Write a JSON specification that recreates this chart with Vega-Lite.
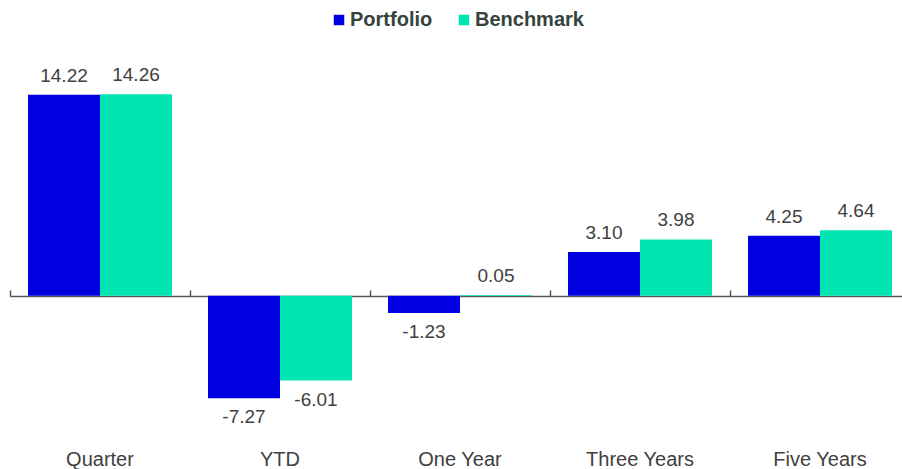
{
  "$schema": "https://vega.github.io/schema/vega-lite/v6.json",
  "width": 900,
  "height": 404,
  "autosize": {"type": "none"},
  "padding": {"left": 10, "top": 40, "right": 0, "bottom": 25},
  "background": "white",
  "config": {
    "view": {"stroke": null},
    "font": "Liberation Sans",
    "locale": {"number": {"decimal": ".", "thousands": ",", "grouping": [3], "currency": ["$", ""], "minus": "-"}}
  },
  "data": {
    "values": [
      {"period": "Quarter", "series": "Portfolio", "value": 14.22},
      {"period": "Quarter", "series": "Benchmark", "value": 14.26},
      {"period": "YTD", "series": "Portfolio", "value": -7.27},
      {"period": "YTD", "series": "Benchmark", "value": -6.01},
      {"period": "One Year", "series": "Portfolio", "value": -1.23},
      {"period": "One Year", "series": "Benchmark", "value": 0.05},
      {"period": "Three Years", "series": "Portfolio", "value": 3.10},
      {"period": "Three Years", "series": "Benchmark", "value": 3.98},
      {"period": "Five Years", "series": "Portfolio", "value": 4.25},
      {"period": "Five Years", "series": "Benchmark", "value": 4.64}
    ]
  },
  "encoding": {
    "xOffset": {"field": "series", "type": "nominal", "sort": ["Portfolio", "Benchmark"], "scale": {"paddingInner": 0, "paddingOuter": 0.25}},
    "y": {"field": "value", "type": "quantitative", "scale": {"domain": [-10.5, 18.1], "nice": false, "zero": false}, "axis": null}
  },
  "layer": [
    {
      "mark": {"type": "bar"},
      "encoding": {
        "x": {"field": "period", "type": "nominal", "sort": ["Quarter", "YTD", "One Year", "Three Years", "Five Years"],
          "scale": {"paddingInner": 0, "paddingOuter": 0},
          "axis": {"orient": "bottom", "title": null, "domain": false, "ticks": false, "labelAngle": 0, "labelFontSize": 20, "labelColor": "#404040", "labelPadding": 5, "labelFont": "Liberation Sans"}},
        "color": {"field": "series", "type": "nominal", "sort": ["Portfolio", "Benchmark"],
          "scale": {"domain": ["Portfolio", "Benchmark"], "range": ["#0000E0", "#00E5B0"]},
          "legend": {"orient": "none", "legendX": 319, "legendY": -30, "direction": "horizontal", "title": null, "symbolType": "square", "symbolSize": 110, "symbolStrokeWidth": 0, "labelFontSize": 20, "labelFontWeight": "bold", "labelColor": "#34443D", "labelOffset": 1, "columnPadding": 21, "padding": 0, "labelFont": "Liberation Sans"}}
      }
    },
    {
      "transform": [{"filter": "datum.value >= 0"}],
      "mark": {"type": "text", "baseline": "alphabetic", "dy": -13, "fontSize": 19, "color": "#404040", "font": "Liberation Sans"},
      "encoding": {
        "x": {"field": "period", "type": "nominal", "sort": ["Quarter", "YTD", "One Year", "Three Years", "Five Years"],
          "scale": {"paddingInner": 0, "paddingOuter": 0},
          "axis": {"orient": "bottom", "title": null, "offset": -148, "labels": false, "domain": true, "domainColor": "#50585A", "domainWidth": 1.5, "ticks": true, "tickBand": "extent", "tickSize": -6, "tickColor": "#50585A", "tickWidth": 1.5}},
        "text": {"field": "value", "type": "quantitative", "format": ".2f"}
      }
    },
    {
      "transform": [{"filter": "datum.value < 0"}],
      "mark": {"type": "text", "baseline": "alphabetic", "dy": 25, "fontSize": 19, "color": "#404040", "font": "Liberation Sans"},
      "encoding": {
        "x": {"field": "period", "type": "nominal", "sort": ["Quarter", "YTD", "One Year", "Three Years", "Five Years"],
          "scale": {"paddingInner": 0, "paddingOuter": 0},
          "axis": null},
        "text": {"field": "value", "type": "quantitative", "format": ".2f"}
      }
    }
  ],
  "resolve": {"axis": {"x": "independent"}}
}
